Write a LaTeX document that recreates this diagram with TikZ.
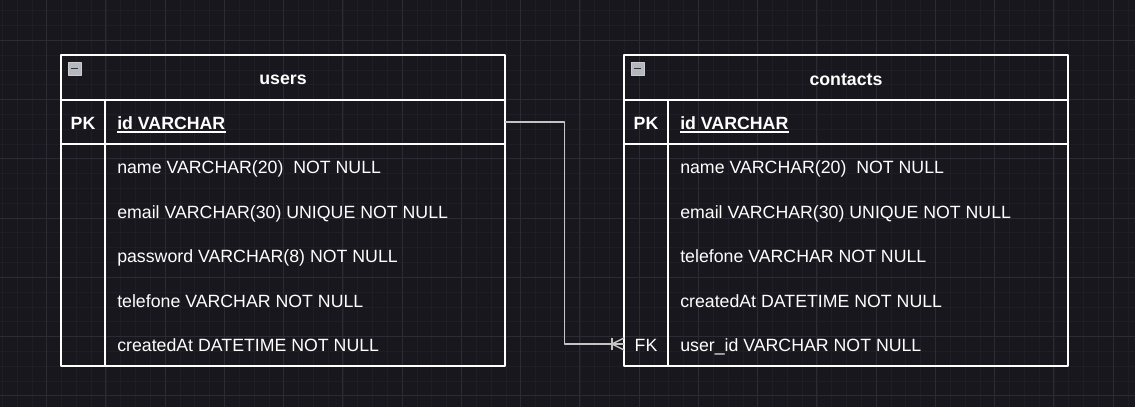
\documentclass[tikz,border=0pt]{standalone}
\usepackage{fontspec}
\setmainfont{Liberation Sans}
\usepackage{xcolor}
\usepackage{tikz}

\definecolor{canvas}{HTML}{18171E}
\definecolor{gridminor}{HTML}{1F1E26}
\definecolor{gridmajor}{HTML}{2C2A32}
\definecolor{linkgray}{HTML}{C4C4C4}
\definecolor{iconfill}{HTML}{B4B7BF}

\begin{document}
\begin{tikzpicture}[x=0.75pt,y=-0.75pt,line join=round,
    tableline/.style={white,line width=1.1pt},
    keyline/.style={white,line width=1.6pt},
    link/.style={linkgray,line width=1.1pt},
    every node/.style={text=white,inner sep=0pt,font=\fontsize{13.3pt}{15pt}\selectfont},
    tabletitle/.style={font=\fontsize{13.3pt}{15pt}\selectfont\bfseries},
    keytext/.style={anchor=base},
    fieldtext/.style={anchor=base west}]
                % canvas and grid
                \useasboundingbox (0,0) rectangle (1135,407);
                \fill[canvas] (0,0) rectangle (1135,407);
                \foreach \i in {0,...,76} \draw[gridminor,line width=0.6pt] ({2.3+14.8125*\i},0)--++(0,407);
                \foreach \i in {0,...,26} \draw[gridminor,line width=0.6pt] (0,{10.7+14.8125*\i})--++(1135,0);
                \foreach \i in {0,...,18} \draw[gridmajor,line width=0.7pt] ({46.7+59.25*\i},0)--++(0,407);
                \foreach \i in {0,...,6} \draw[gridmajor,line width=0.7pt] (0,{40.3+59.25*\i})--++(1135,0);
                % table users
                \draw[tableline] (61,55) rectangle (505,366);
                \draw[tableline] (61,100)--(505,100);
                \draw[keyline] (61,144)--(505,144);
                \draw[tableline] (105,100)--(105,366);
                \draw[iconfill!70!white,fill=iconfill,line width=0.6pt] (68,62) rectangle (81,75);
                \draw[black!80,line width=1.2pt] (71,68.5)--(78,68.5);
                \node[tabletitle] (usersTitle) at (283,79.5) {users};
                \node[keytext,font=\fontsize{13.3pt}{15pt}\selectfont\bfseries] (usersPK) at (83,129.4) {PK};
                \node[fieldtext,font=\fontsize{13.3pt}{15pt}\selectfont\bfseries] (usersId) at (117,129.4) {id VARCHAR};
                \draw[white,line width=1.3pt] ([yshift=-2.2pt]usersId.base west)--([yshift=-2.2pt]usersId.base east);
                \node[fieldtext] (usersName) at (117,173.8) {name VARCHAR(20)\ \ NOT NULL};
                \node[fieldtext] (usersEmail) at (117,218.2) {email VARCHAR(30) UNIQUE NOT NULL};
                \node[fieldtext] (usersPassword) at (117,262.6) {password VARCHAR(8) NOT NULL};
                \node[fieldtext] (usersPhone) at (117,307.0) {telefone VARCHAR NOT NULL};
                \node[fieldtext] (usersCreated) at (117,351.4) {createdAt DATETIME NOT NULL};
                % table contacts
                \draw[tableline] (624,55) rectangle (1068,366);
                \draw[tableline] (624,100)--(1068,100);
                \draw[keyline] (624,144)--(1068,144);
                \draw[tableline] (668,100)--(668,366);
                \draw[iconfill!70!white,fill=iconfill,line width=0.6pt] (631,62) rectangle (644,75);
                \draw[black!80,line width=1.2pt] (634,68.5)--(641,68.5);
                \node[tabletitle] (contactsTitle) at (846,79.5) {contacts};
                \node[keytext,font=\fontsize{13.3pt}{15pt}\selectfont\bfseries] (contactsPK) at (646,129.4) {PK};
                \node[fieldtext,font=\fontsize{13.3pt}{15pt}\selectfont\bfseries] (contactsId) at (680,129.4) {id VARCHAR};
                \draw[white,line width=1.3pt] ([yshift=-2.2pt]contactsId.base west)--([yshift=-2.2pt]contactsId.base east);
                \node[fieldtext] (contactsName) at (680,173.8) {name VARCHAR(20)\ \ NOT NULL};
                \node[fieldtext] (contactsEmail) at (680,218.2) {email VARCHAR(30) UNIQUE NOT NULL};
                \node[fieldtext] (contactsPhone) at (680,262.6) {telefone VARCHAR NOT NULL};
                \node[fieldtext] (contactsCreated) at (680,307.0) {createdAt DATETIME NOT NULL};
                \node[keytext] (contactsFK) at (646,351.4) {FK};
                \node[fieldtext] (contactsUser) at (680,351.4) {user\_id VARCHAR NOT NULL};
                % relation users.id -> contacts.user_id
                \coordinate (usersIdEnd) at (505,122);
                \coordinate (contactsFKEnd) at (624,344);
                \draw[link] (usersIdEnd)--++(59.5,0)|-(contactsFKEnd);
                \draw[link] (contactsFKEnd)++(-12,-6)--++(0,12);
                \draw[link] (contactsFKEnd)++(0,-6)--++(-12,6)--++(12,6);
              \end{tikzpicture}
\end{document}
